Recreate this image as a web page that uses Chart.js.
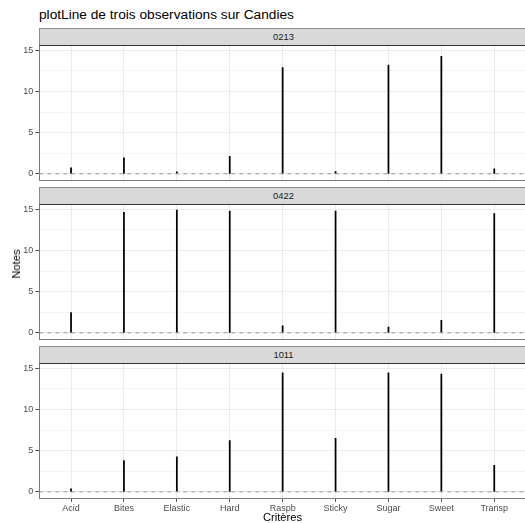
<!DOCTYPE html>
<html lang="fr">
<head>
<meta charset="UTF-8">
<title>plotLine Candies</title>
<script src="https://cdn.jsdelivr.net/npm/chart.js@4"></script>
<style>
  html, body { margin: 0; padding: 0; background: #fff; overflow: hidden; }
  #fig { position: relative; width: 525px; height: 523px; overflow: hidden;
         font-family: "Liberation Sans", Arial, sans-serif; color: #000; }
  #fig canvas { position: absolute; left: 0; }
  .titre { position: absolute; left: 39px; top: 7px; font-size: 13.7px; white-space: nowrap; }
  .strip { position: absolute; left: 39px; width: 490px; height: 18px; box-sizing: border-box;
           background: #d9d9d9; border: 1px solid #8c8c8c; border-bottom-color: #333;
           font-size: 9.4px; color: #1a1a1a; line-height: 16px; }
  .strip span { position: absolute; left: 243.5px; transform: translateX(-50%); }
  .ylab { position: absolute; left: 15.5px; top: 264px; font-size: 11.2px;
          transform: translate(-50%, -50%) rotate(-90deg); white-space: nowrap; }
  .xlab { position: absolute; left: 282.5px; top: 511px; font-size: 11.2px;
          transform: translateX(-50%); white-space: nowrap; }
</style>
</head>
<body>
<div id="fig">
  <canvas id="p0" width="526" height="149"></canvas>
  <canvas id="p1" width="526" height="149"></canvas>
  <canvas id="p2" width="526" height="165"></canvas>
  <div class="titre">plotLine de trois observations sur Candies</div>
  <div class="ylab">Notes</div>
  <div class="xlab">Critères</div>
</div>
<script>
// critères et notes des trois observations
const criteres = ['Acid', 'Bites', 'Elastic', 'Hard', 'Raspb', 'Sticky', 'Sugar', 'Sweet', 'Transp'];
const observations = ['0213', '0422', '1011'];
const notes0213 = [0.72, 1.93, 0.24, 2.12, 12.9, 0.28, 13.2, 14.27, 0.6];
const notes0422 = [2.46, 14.64, 14.92, 14.8, 0.85, 14.8, 0.69, 1.53, 14.48];
const notes1011 = [0.36, 3.81, 4.26, 6.22, 14.47, 6.51, 14.47, 14.3, 3.21];
const yMajor = [0, 5, 10, 15];
const yMinor = [2.5, 7.5, 12.5];

// zone commune des facettes
const X_MIN = 0.4, X_MAX = 9.6;
const Y_MIN = -0.75, Y_MAX = 15.65;
const plotTops = [45, 204, 363];   // haut de chaque panneau
const stripTops = [28, 187, 346];
const FONT = '"Liberation Sans", Arial, sans-serif';

const fig = document.getElementById('fig');
stripTops.forEach((t, i) => {
  const s = document.createElement('div');
  s.className = 'strip';
  s.style.top = t + 'px';
  s.innerHTML = '<span>' + observations[i] + '</span>';
  fig.appendChild(s);
});

function panel(id, notes, top, axeX) {
  const cv = document.getElementById(id);
  cv.style.top = (top - 10) + 'px';
  const yGrid = yMajor.concat(yMinor).sort((a, b) => a - b);
  return new Chart(cv, {
    type: 'bar',
    data: {
      datasets: [
        {
          // ligne de référence à zéro
          type: 'line',
          data: [{ x: X_MIN, y: 0 }, { x: X_MAX, y: 0 }],
          borderColor: '#9a9a9a',
          borderWidth: 1,
          borderDash: [4, 4],
          pointRadius: 0,
          order: 0
        },
        {
          data: notes.map((v, i) => ({ x: i + 1, y: v })),
          backgroundColor: '#000',
          borderWidth: 0,
          barThickness: 1.1,
          grouped: false,
          order: 1
        }
      ]
    },
    options: {
      responsive: false,
      animation: false,
      devicePixelRatio: 1,
      layout: { padding: { top: 10, right: 0, bottom: axeX ? 0 : 4, left: 0 } },
      plugins: { legend: { display: false }, tooltip: { enabled: false } },
      scales: {
        x: {
          type: 'linear',
          min: X_MIN,
          max: X_MAX,
          offset: false,
          afterBuildTicks: s => { s.ticks = criteres.map((c, i) => ({ value: i + 1 })); },
          afterFit: s => {
            s.height = axeX ? 20 : 0;
            s.paddingLeft = 0; s.paddingRight = 0;
          },
          ticks: {
            display: axeX,
            autoSkip: false,
            maxRotation: 0,
            padding: 1,
            color: '#4d4d4d',
            font: { family: FONT, size: 9 },
            callback: v => criteres[v - 1]
          },
          grid: { offset: false, color: '#ebebeb', lineWidth: 1, drawTicks: axeX, tickLength: 4, tickColor: '#555' },
          border: { display: true, color: '#7a7a7a', width: 1 }
        },
        y: {
          min: Y_MIN,
          max: Y_MAX,
          afterBuildTicks: s => { s.ticks = yGrid.map(v => ({ value: v })); },
          afterFit: s => {
            s.width = 39.3;
            s.paddingTop = 0; s.paddingBottom = 0;
          },
          ticks: {
            padding: 2,
            color: '#4d4d4d',
            font: { family: FONT, size: 9 },
            callback: v => yMajor.includes(v) ? String(v) : ''
          },
          grid: {
            color: c => yMajor.includes(c.tick.value) ? '#ebebeb' : '#f4f4f4',
            lineWidth: 1,
            tickLength: 4,
            tickColor: c => yMajor.includes(c.tick.value) ? '#555' : 'rgba(0,0,0,0)'
          },
          border: { display: true, color: '#7a7a7a', width: 1 }
        }
      }
    }
  });
}

panel('p0', notes0213, plotTops[0], false);
panel('p1', notes0422, plotTops[1], false);
panel('p2', notes1011, plotTops[2], true);
</script>
</body>
</html>
